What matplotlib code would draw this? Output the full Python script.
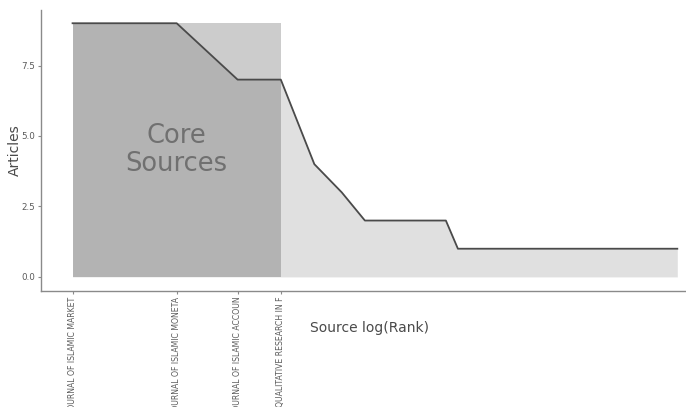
import numpy as np
import matplotlib
matplotlib.use("Agg")
import matplotlib.pyplot as plt
from matplotlib.patches import Rectangle

# articles per source, sorted by rank (Bradford zones)
articles = [9, 9, 7, 7, 4, 3, 2, 2, 2, 2, 2, 2] + [1] * 44
core_sources = ["JOURNAL OF ISLAMIC MARKET", "JOURNAL OF ISLAMIC MONETA",
                "JOURNAL OF ISLAMIC ACCOUN", "QUALITATIVE RESEARCH IN F"]

rank = np.arange(1, len(articles) + 1)
x = np.log(rank)
n_core = len(core_sources)
top = max(articles)

fig = plt.figure(figsize=(6.86, 4.07), dpi=100)
ax = fig.add_axes([41 / 686, 116 / 407, 1 - 41 / 686, 1 - 10 / 407 - 116 / 407])

# area under the curve
ax.fill_between(x, 0, articles, color="#e0e0e0", lw=0, zorder=1)
# core zone shading
ax.add_patch(Rectangle((0, 0), np.log(n_core), top, facecolor="black",
                       alpha=0.2, lw=0, zorder=2))
ax.plot(x, articles, color="#4a4a4a", lw=1.3, zorder=3)

ax.text(np.log(n_core) / 2, top / 2, "Core\nSources", ha="center", va="center",
        fontsize=18.5, color="#707070", linespacing=1.1, zorder=4)

ax.set_xlim(-0.21, (686 - 72.7) / 150.2)
ax.set_ylim(-0.5, 9.47)
ax.set_yticks([0, 2.5, 5.0, 7.5])
ax.set_yticklabels(["0.0", "2.5", "5.0", "7.5"])
ax.set_xticks(x[:n_core])
ax.set_xticklabels(core_sources, rotation=90, va="top", ha="center")

for s in ["top", "right"]:
    ax.spines[s].set_visible(False)
for s in ["left", "bottom"]:
    ax.spines[s].set_color("#8a8a8a")
    ax.spines[s].set_linewidth(1.0)
ax.tick_params(axis="both", colors="#8a8a8a", labelcolor="#5a5a5a",
               labelsize=6.3, length=2.5, width=0.8, pad=1.5)
ax.tick_params(axis="x", labelsize=5.6)

ax.set_xlabel("Source log(Rank)", fontsize=10, color="#4a4a4a")
ax.xaxis.set_label_coords((370 - 41) / 645, -30 / 281)
ax.set_ylabel("Articles", fontsize=10, color="#4a4a4a")
ax.yaxis.set_label_coords(-19 / 645, (277 - 150) / 281 + 14 / 281)

fig.savefig("out.png", dpi=100)
